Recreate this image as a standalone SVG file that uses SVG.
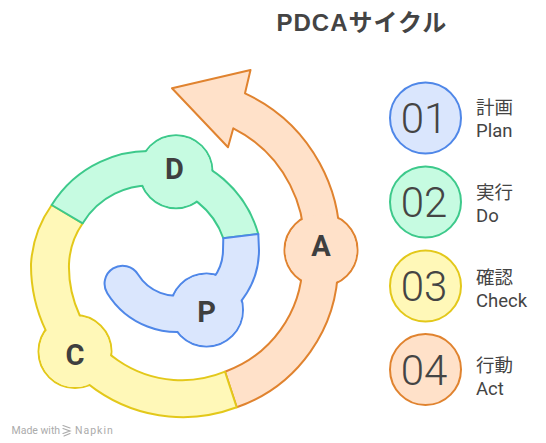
<svg xmlns="http://www.w3.org/2000/svg" width="546" height="443" viewBox="0 0 546 443">
<style>
.sw{stroke-width:2;stroke-linejoin:round}
.b{fill:#dae6fd;stroke:#4f87e8}.bf{fill:#dae6fd}
.g{fill:#c6fbe1;stroke:#3dc98b}.gf{fill:#c6fbe1}
.y{fill:#fff8b8;stroke:#e3c81a}.yf{fill:#fff8b8}
.o{fill:#ffe1c9;stroke:#e0832f}.of{fill:#ffe1c9}
.lbl{font-family:Roboto,"Liberation Sans",sans-serif;font-weight:700;font-size:29px;fill:#3f3f3f;text-anchor:middle}
.num{font-family:Roboto,"Liberation Sans",sans-serif;font-weight:300;font-size:42px;fill:#444;text-anchor:middle}
.jp{font-family:"Noto Sans CJK JP",sans-serif;font-size:18.5px;fill:#444}
.en{font-family:Roboto,"Liberation Sans",sans-serif;font-size:18.5px;fill:#444}
.wm{font-family:Roboto,"Liberation Sans",sans-serif;font-size:10.5px;fill:#ababab}
</style>
<g id="title">
<text x="276.5" y="31" font-family="'Liberation Sans','Noto Sans CJK JP',sans-serif" font-size="24" font-weight="700" fill="#444" letter-spacing="1">PDCAサイクル</text>
</g>
<g id="seg-A">
<circle cx="321" cy="250" r="36.5" class="o sw"/>
<path class="o sw" d="M236.7,407.3 A151,151 0 0 0 338,264 A163,163 0 0 0 245,93.3 L250.5,70 L172,88.3 L228,147.3 L233.3,128.3 A129,129 0 0 1 302.5,264 A117,117 0 0 1 225,371.7 Z"/>
<circle cx="321" cy="250" r="35.5" class="of"/>
<text class="lbl" x="321" y="256">A</text>
</g>
<g id="seg-C">
<circle cx="75" cy="351.6" r="36.5" class="y sw"/>
<path class="y sw" d="M51.7,205 A114,114 0 0 0 31,264 A152,152 0 0 0 236.7,407.3 L225,371.7 A113,113 0 0 1 69,264 A77,77 0 0 1 82.7,223.3 Z"/>
<circle cx="75" cy="351.6" r="35.5" class="yf"/>
<text class="lbl" x="75" y="365">C</text>
</g>
<g id="seg-D">
<circle cx="176" cy="171.7" r="36.5" class="g sw"/>
<path class="g sw" d="M258.3,234 A114,114 0 0 0 51.7,205 L82.7,223.3 A78,78 0 0 1 223.3,238.3 Z"/>
<circle cx="176" cy="171.7" r="35.5" class="gf"/>
<text class="lbl" x="174.5" y="179">D</text>
</g>
<g id="seg-P">
<circle cx="206.5" cy="310" r="36.5" class="b sw"/>
<path class="b sw" d="M107.3,293.2 A82,82 0 0 0 259,250 L258.3,234 L223.3,238.3 L223,250 A46,46 0 0 1 137.9,274.2 A18,18 0 0 0 107.3,293.2 Z"/>
<circle cx="206.5" cy="310" r="35.5" class="bf"/>
<text class="lbl" x="206.5" y="321.5">P</text>
</g>
<g id="item-1">
<circle cx="425.5" cy="118" r="35.5" class="b sw"/>
<text class="num" x="424" y="133">01</text>
<text class="jp" x="476" y="114">計画</text>
<text class="en" x="476" y="137">Plan</text>
</g>
<g id="item-2">
<circle cx="425.5" cy="202" r="35.5" class="g sw"/>
<text class="num" x="424" y="217">02</text>
<text class="jp" x="476" y="199">実行</text>
<text class="en" x="476" y="222">Do</text>
</g>
<g id="item-3">
<circle cx="425.5" cy="286" r="35.5" class="y sw"/>
<text class="num" x="424" y="301">03</text>
<text class="jp" x="476" y="284">確認</text>
<text class="en" x="476" y="307">Check</text>
</g>
<g id="item-4">
<circle cx="425.5" cy="369.5" r="35.5" class="o sw"/>
<text class="num" x="424" y="384.5">04</text>
<text class="jp" x="476" y="372">行動</text>
<text class="en" x="476" y="395">Act</text>
</g>
<g id="watermark">
<text class="wm" x="11.5" y="433.5">Made with</text>
<path d="M63,425.5 L70,428 M63,428.5 L70,431 L63,433.5 M64,436 L70,433.5" fill="none" stroke="#ababab" stroke-width="1.2" stroke-linecap="round"/>
<text class="wm" x="75" y="433.5" letter-spacing="1">Napkin</text>
</g>
</svg>
